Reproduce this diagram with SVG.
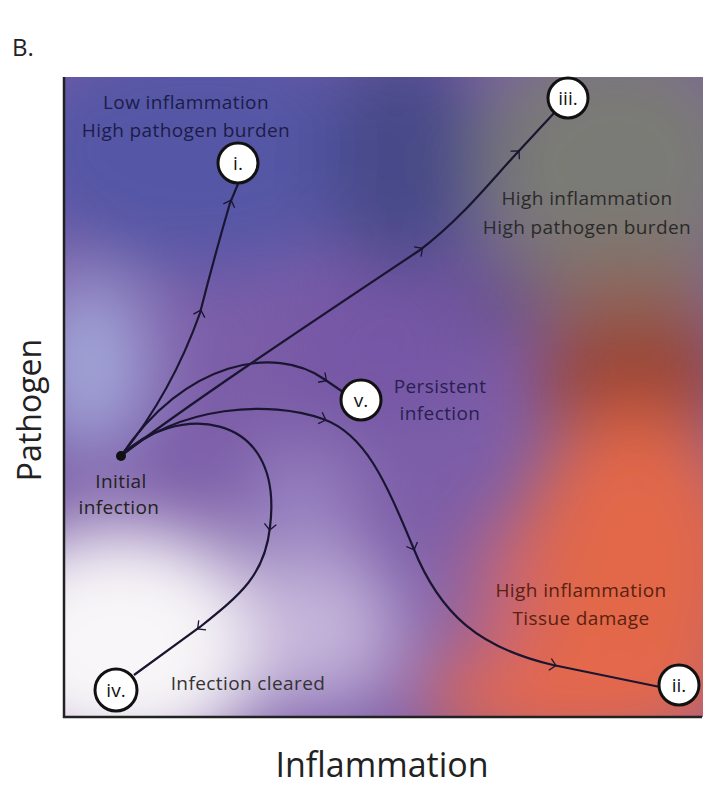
<svg xmlns="http://www.w3.org/2000/svg" width="715" height="787" viewBox="0 0 715 787">
<style>
text{font-family:"Open Sans","Noto Sans","DejaVu Sans",sans-serif}
.lbl{font-size:19px;text-anchor:middle;letter-spacing:0.4px}
.node circle{fill:#ffffff;stroke:#111111;stroke-width:3}
.node text{font-size:19px;text-anchor:middle;fill:#111}
.traj{fill:none;stroke:#1a1530;stroke-width:2.2;marker-mid:url(#chev)}
</style>
<defs>
<marker id="chev" markerWidth="14" markerHeight="14" refX="0" refY="0" viewBox="-7 -7 14 14" orient="auto" markerUnits="userSpaceOnUse">
<path d="M-3,-6 L3,0 L-3,6" fill="none" stroke="#1a1530" stroke-width="1.3"/>
</marker>
<clipPath id="plot"><rect x="65" y="77" width="638" height="640"/></clipPath>
<filter id="blur" x="-50%" y="-50%" width="200%" height="200%"><feGaussianBlur stdDeviation="36"/></filter>
</defs>
<g id="background" clip-path="url(#plot)">
<rect x="65" y="77" width="638" height="640" fill="#7c5ea8"/>
<g filter="url(#blur)">
<ellipse cx="200" cy="150" rx="190" ry="120" fill="#5456a6"/>
<ellipse cx="405" cy="160" rx="80" ry="120" fill="#464988"/>
<ellipse cx="615" cy="165" rx="140" ry="130" fill="#7a7a76"/>
<ellipse cx="500" cy="300" rx="40" ry="30" fill="#5a4a7c"/>
<ellipse cx="630" cy="290" rx="100" ry="40" fill="#8a6a60"/>
<ellipse cx="635" cy="375" rx="100" ry="65" fill="#9a4434"/>
<ellipse cx="635" cy="570" rx="120" ry="160" fill="#e2684a"/>
<ellipse cx="580" cy="695" rx="160" ry="60" fill="#e4684c"/>
<ellipse cx="120" cy="645" rx="150" ry="120" fill="#f8f6f8"/>
<ellipse cx="90" cy="365" rx="60" ry="90" fill="#a2a6d8"/>
<ellipse cx="380" cy="350" rx="100" ry="80" fill="#7656a6"/>
<ellipse cx="300" cy="500" rx="60" ry="50" fill="#9a84c2"/>
<ellipse cx="320" cy="630" rx="80" ry="80" fill="#c4b4da"/>
<ellipse cx="490" cy="600" rx="25" ry="80" fill="#c06880"/>
</g>
</g>
<g id="axes" stroke="#222" stroke-width="2.5">
<line x1="64" y1="77" x2="64" y2="718"/>
<line x1="63" y1="717" x2="702" y2="717"/>
</g>
<g id="connectors">
<path class="traj" d="M121,456 Q172,392 200,313 Q214,258 230,203 L238,184"/>
<path class="traj" d="M121,456 C180,410 300,330 420,250 C460,220 490,182 517,153 L555,112"/>
<path class="traj" d="M121,456 C185,360 275,345 324,379 L343,392"/>
<path class="traj" d="M121,456 C180,405 270,400 323,419 C365,434 385,480 413,547 C440,615 480,648 553,665 L660,687"/>
<path class="traj" d="M121,456 C170,405 285,405 270,527 C265,575 240,595 200,627 L134,675"/>
</g>
<g id="initial">
<circle cx="121" cy="456" r="5" fill="#111"/>
<text class="lbl" x="121" y="488" fill="#222">Initial</text>
<text class="lbl" x="119" y="514" fill="#222">infection</text>
</g>
<g id="node-i" class="node"><circle cx="238" cy="163" r="20"/><text x="238" y="170">i.</text></g>
<g id="node-iii" class="node"><circle cx="568" cy="98" r="20"/><text x="568" y="105">iii.</text></g>
<g id="node-v" class="node"><circle cx="361" cy="400" r="20"/><text x="361" y="407">v.</text></g>
<g id="node-iv" class="node"><circle cx="116" cy="690" r="21"/><text x="116" y="697">iv.</text></g>
<g id="node-ii" class="node"><circle cx="679" cy="685" r="20"/><text x="679" y="692">ii.</text></g>
<g id="region-labels">
<text class="lbl" x="186" y="109" fill="#1c1c48">Low inflammation</text>
<text class="lbl" x="186" y="137" fill="#1c1c48">High pathogen burden</text>
<text class="lbl" x="587" y="205" fill="#2a2a2a">High inflammation</text>
<text class="lbl" x="587" y="234" fill="#2a2a2a">High pathogen burden</text>
<text class="lbl" x="440" y="393" fill="#2a2050">Persistent</text>
<text class="lbl" x="440" y="420" fill="#2a2050">infection</text>
<text class="lbl" x="581" y="597" fill="#5a2010">High inflammation</text>
<text class="lbl" x="581" y="625" fill="#5a2010">Tissue damage</text>
<text class="lbl" x="248" y="690" fill="#333">Infection cleared</text>
</g>
<g id="titles" fill="#222">
<text x="12" y="56" font-size="24">B.</text>
<text x="382" y="777" font-size="34" text-anchor="middle">Inflammation</text>
<text transform="translate(41,410) rotate(-90)" font-size="32" text-anchor="middle">Pathogen</text>
</g>
</svg>
